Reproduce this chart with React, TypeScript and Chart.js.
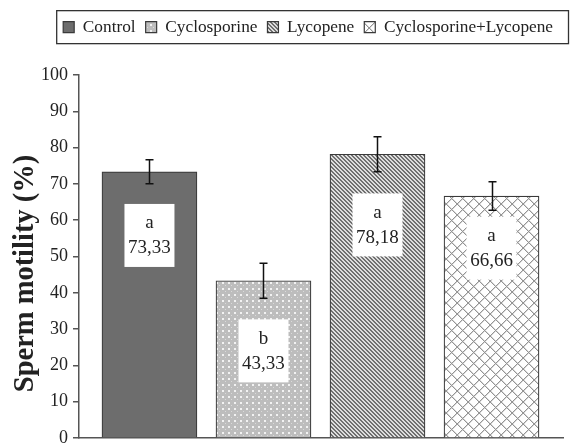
import React, { useEffect, useRef } from 'react';
import { Chart, registerables } from 'chart.js';

Chart.register(...registerables);

// ---- data ----
const categories = ['Control', 'Cyclosporine', 'Lycopene', 'Cyclosporine+Lycopene'];
const motility = [73.33, 43.33, 78.18, 66.66];
const errorBars = [3.3, 4.8, 4.8, 3.9];
const letters = ['a', 'b', 'a', 'a'];
const yMin = 0;
const yMax = 100;
const yStep = 10;
const yTitle = 'Sperm motility (%)';

// ---- styling ----
const SERIF = "'Liberation Serif', 'Times New Roman', serif";
const TEXT = '#222';
const AXIS = '#555';
// vertical centre of the white label boxes, expressed in axis units
const labelBoxCentre = [55.8, 24.0, 58.7, 52.3];

function makePattern(kind: string): CanvasPattern | string {
  const c = document.createElement('canvas');
  const ctx = c.getContext('2d');
  if (!ctx) return '#999';
  if (kind === 'solid') return '#6d6d6d';
  if (kind === 'dots') {
    c.width = 6; c.height = 6;
    ctx.fillStyle = '#bdbdbd';
    ctx.fillRect(0, 0, 6, 6);
    ctx.fillStyle = '#f2f2f2';
    ctx.fillRect(0, 0, 2, 2);
    ctx.fillStyle = '#dadada';
    ctx.fillRect(3, 3, 1, 1);
  } else if (kind === 'diag') {
    c.width = 4; c.height = 4;
    for (let y = 0; y < 4; y++) {
      for (let x = 0; x < 4; x++) {
        ctx.fillStyle = ((x - y + 8) % 4) < 2 ? '#707070' : '#dedede';
        ctx.fillRect(x, y, 1, 1);
      }
    }
  } else if (kind === 'cross') {
    const n = 11;
    c.width = n; c.height = n;
    ctx.fillStyle = '#ffffff';
    ctx.fillRect(0, 0, n, n);
    for (let y = 0; y < n; y++) {
      for (let x = 0; x < n; x++) {
        const a = (x + y) % n;
        const b = (x - y + 2 * n) % n;
        if (a === 0 || b === 0) {
          ctx.fillStyle = '#949494';
          ctx.fillRect(x, y, 1, 1);
        } else if (a === 1 || b === 1) {
          ctx.fillStyle = '#d8d8d8';
          ctx.fillRect(x, y, 1, 1);
        }
      }
    }
  }
  return ctx.createPattern(c, 'repeat') || '#999';
}

const patternKinds = ['solid', 'dots', 'diag', 'cross'];

export default function App() {
  const ref = useRef<HTMLCanvasElement | null>(null);

  useEffect(() => {
    const canvas = ref.current;
    if (!canvas) return;

    const fills = patternKinds.map(makePattern);

    const datasets = categories.map((name, i) => ({
      label: name,
      data: [{ x: i + 1, y: motility[i] }],
      backgroundColor: fills[i],
      borderColor: '#3a3a3a',
      borderWidth: 1.2,
      barThickness: 95,
      grouped: false,
    }));

    const legendPatch = {
      id: 'legendPatch',
      beforeLayout(chart: any) {
        const lg = chart.legend;
        if (lg && !lg.__patched) {
          const orig = lg.fit.bind(lg);
          lg.fit = () => {
            orig();
            lg.height = 66.5;
          };
          lg.__patched = true;
        }
      },
      afterDraw(chart: any) {
        const lg = chart.legend;
        if (!lg || !lg.legendHitBoxes || !lg.legendHitBoxes.length) return;
        const hb = lg.legendHitBoxes;
        const first = hb[0];
        const cy = first.top + first.height / 2;
        const ctx = chart.ctx;
        ctx.save();
        ctx.strokeStyle = '#333';
        ctx.lineWidth = 1.3;
        const left = first.left - 7;
        const right = chart.width - 2;
        ctx.strokeRect(left + 0.5, cy - 17 + 0.5, right - left, 33);
        ctx.restore();
      },
    };

    const annotate = {
      id: 'annotate',
      afterDatasetsDraw(chart: any) {
        const ctx = chart.ctx;
        const xs = chart.scales.x;
        const ys = chart.scales.y;
        ctx.save();
        // error bars
        ctx.strokeStyle = '#111';
        ctx.lineWidth = 1.5;
        motility.forEach((v, i) => {
          const px = Math.round(xs.getPixelForValue(i + 1)) + 0.5;
          const top = ys.getPixelForValue(v + errorBars[i]);
          const bot = ys.getPixelForValue(v - errorBars[i]);
          ctx.beginPath();
          ctx.moveTo(px, top);
          ctx.lineTo(px, bot);
          ctx.moveTo(px - 4, top);
          ctx.lineTo(px + 4, top);
          ctx.moveTo(px - 4, bot);
          ctx.lineTo(px + 4, bot);
          ctx.stroke();
        });
        // label boxes
        motility.forEach((v, i) => {
          const px = xs.getPixelForValue(i + 1);
          const cy = ys.getPixelForValue(labelBoxCentre[i]);
          const w = 50;
          const h = 63;
          ctx.fillStyle = '#ffffff';
          ctx.fillRect(px - w / 2, cy - h / 2, w, h);
          ctx.fillStyle = TEXT;
          ctx.font = `19px ${SERIF}`;
          ctx.textAlign = 'center';
          ctx.textBaseline = 'middle';
          ctx.fillText(letters[i], px, cy - 12);
          ctx.fillText(v.toFixed(2).replace('.', ','), px, cy + 13);
        });
        ctx.restore();
      },
    };

    // y-axis title drawn slightly below the axis centre, as in the reference
    const yTitlePlugin = {
      id: 'yTitlePlugin',
      afterDraw(chart: any) {
        const ys = chart.scales.y;
        const ctx = chart.ctx;
        ctx.save();
        ctx.translate(ys.left + 26, (ys.top + ys.bottom) / 2 + 17);
        ctx.rotate(-Math.PI / 2);
        ctx.fillStyle = TEXT;
        ctx.font = `bold 28.5px ${SERIF}`;
        ctx.textAlign = 'center';
        ctx.textBaseline = 'middle';
        ctx.fillText(yTitle, 0, 0);
        ctx.restore();
      },
    };

    const chart = new Chart(canvas, {
      type: 'bar',
      data: { datasets },
      options: {
        responsive: false,
        animation: false,
        layout: {
          autoPadding: false,
          padding: { top: 8.5, left: 0, right: 7, bottom: 6 },
        },
        plugins: {
          legend: {
            display: true,
            position: 'top',
            align: 'end',
            labels: {
              boxWidth: 11,
              boxHeight: 11,
              padding: 10,
              color: TEXT,
              font: { family: SERIF, size: 17.3 },
            },
          },
          tooltip: { enabled: false },
          title: { display: false },
        },
        scales: {
          x: {
            type: 'linear',
            offset: false,
            min: 0.382,
            max: 4.627,
            ticks: { display: false },
            grid: { display: false, drawTicks: false, offset: false },
            border: { display: true, color: AXIS, width: 1.5 },
            afterFit(scale: any) {
              scale.height = 0;
              scale.paddingLeft = 0;
              scale.paddingRight = 0;
            },
          },
          y: {
            min: yMin,
            max: yMax,
            ticks: {
              stepSize: yStep,
              color: TEXT,
              padding: 5,
              font: { family: SERIF, size: 18 },
            },
            grid: {
              display: true,
              drawOnChartArea: false,
              drawTicks: true,
              tickLength: 6,
              color: AXIS,
              lineWidth: 1.5,
            },
            border: { display: true, color: AXIS, width: 1.5 },
            title: { display: false, text: yTitle },
            afterFit(scale: any) {
              scale.width = 79;
              scale.paddingTop = 0;
              scale.paddingBottom = 0;
            },
          },
        },
      },
      plugins: [legendPatch, annotate, yTitlePlugin],
    } as any);

    return () => {
      chart.destroy();
    };
  }, []);

  return (
    <div style={{ position: 'absolute', left: 0, top: 0, width: 570, height: 444, background: '#fff' }}>
      <canvas ref={ref} width={570} height={444} style={{ display: 'block' }} />
    </div>
  );
}
